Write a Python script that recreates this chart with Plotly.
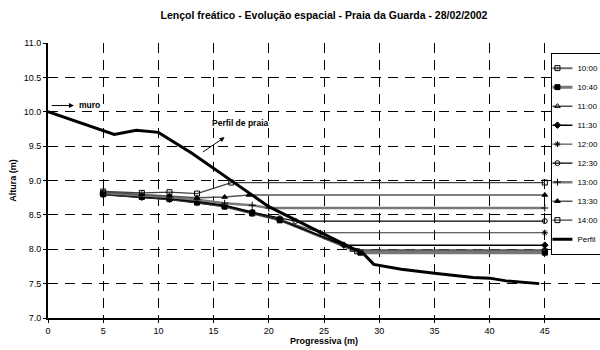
import plotly.graph_objects as go

# ---- data ----
perfil_x = [0, 6, 8, 10, 13, 20, 27.5, 28.5, 29.5, 32, 35, 38.5, 40, 41.5, 44.5]
perfil_y = [10.0, 9.67, 9.73, 9.70, 9.40, 8.62, 8.02, 7.95, 7.78, 7.71, 7.65, 7.59, 7.58, 7.54, 7.50]

x_1000 = [5, 8.5, 11, 13.5, 16, 18.5, 21, 28.0, 45]
y_1000 = [8.80, 8.76, 8.73, 8.68, 8.62, 8.52, 8.42, 7.97, 7.97]
x_1040 = [5, 8.5, 11, 13.5, 16, 18.5, 21, 28.3, 45]
y_1040 = [8.81, 8.77, 8.74, 8.69, 8.63, 8.53, 8.43, 7.95, 7.95]
x_1100 = [5, 8.5, 11, 13.5, 16, 18.5, 21, 27.6, 45]
y_1100 = [8.80, 8.76, 8.73, 8.69, 8.63, 8.53, 8.43, 7.99, 7.99]
x_1130 = [5, 8.5, 11, 13.5, 16, 18.5, 21, 26.8, 45]
y_1130 = [8.80, 8.76, 8.73, 8.69, 8.63, 8.53, 8.43, 8.06, 8.06]
x_1200 = [5, 8.5, 11, 13.5, 16, 18.5, 21, 24.7, 45]
y_1200 = [8.79, 8.75, 8.72, 8.67, 8.62, 8.52, 8.43, 8.24, 8.24]
x_1230 = [5, 8.5, 11, 13.5, 16, 18.5, 21, 22.4, 45]
y_1230 = [8.82, 8.78, 8.75, 8.70, 8.64, 8.54, 8.45, 8.41, 8.41]
x_1300 = [5, 8.5, 11, 13.5, 16, 18.5, 20.0, 45]
y_1300 = [8.82, 8.79, 8.76, 8.72, 8.67, 8.64, 8.60, 8.60]
x_1330 = [5, 8.5, 11, 13.5, 16, 18.2, 45]
y_1330 = [8.83, 8.80, 8.78, 8.75, 8.76, 8.79, 8.79]
x_1400 = [5, 8.5, 11, 13.5, 16.6, 45]
y_1400 = [8.84, 8.82, 8.83, 8.81, 8.97, 8.97]

series_names = ["10:00", "10:40", "11:00", "11:30", "12:00", "12:30", "13:00", "13:30", "14:00"]
series_x = [x_1000, x_1040, x_1100, x_1130, x_1200, x_1230, x_1300, x_1330, x_1400]
series_y = [y_1000, y_1040, y_1100, y_1130, y_1200, y_1230, y_1300, y_1330, y_1400]

# ---- styles ----
symbols = ["square-open-dot", "square", "triangle-up-open", "diamond", "asterisk-open",
           "circle-open", "cross-thin-open", "triangle-up", "square-open"]
line_colors = ["#6e6e6e", "#777777", "#505050", "#000000", "#303030",
               "#000000", "#7a7a7a", "#555555", "#404040"]
line_widths = [2, 3, 1.5, 1.5, 1, 1.2, 2.5, 1.5, 1.3]

FONT = "Arial, 'Liberation Sans', sans-serif"

fig = go.Figure()
for name, xs, ys, sym, col, lw in zip(series_names, series_x, series_y, symbols, line_colors, line_widths):
    fig.add_trace(go.Scatter(
        x=xs, y=ys, name=name, mode="lines+markers",
        line=dict(color=col, width=lw),
        marker=dict(symbol=sym, size=5, color="black", line=dict(color="black", width=1)),
    ))

fig.add_trace(go.Scatter(
    x=perfil_x, y=perfil_y, name="Perfil", mode="lines",
    line=dict(color="black", width=3),
))

fig.add_annotation(x=2.35, y=10.09, ax=0.2, ay=10.09, axref="x", ayref="y",
                   text="", showarrow=True, arrowhead=2, arrowsize=1, arrowwidth=1,
                   arrowcolor="black")
fig.add_annotation(x=2.6, y=10.1, text="<b>muro</b>", showarrow=False,
                   xanchor="left", font=dict(size=8.5, family=FONT, color="black"))
fig.add_annotation(x=16.0, y=9.63, ax=13.9, ay=9.40, axref="x", ayref="y",
                   text="", showarrow=True, arrowhead=2, arrowsize=1, arrowwidth=1,
                   arrowcolor="black")
fig.add_annotation(x=17.4, y=9.84, text="<b>Perfil de praia</b>", showarrow=False,
                   font=dict(size=8.5, family=FONT, color="black"))

fig.update_layout(
    width=600, height=350,
    margin=dict(l=48, r=0, t=43, b=32, autoexpand=False),
    paper_bgcolor="white", plot_bgcolor="white",
    font=dict(family=FONT, size=9, color="black"),
    title=dict(text="<b>Lençol freático - Evolução espacial - Praia da Guarda - 28/02/2002</b>",
               x=0.54, xanchor="center", y=0.955, yanchor="middle",
               font=dict(size=10.5, family=FONT, color="black")),
    showlegend=True,
    legend=dict(x=0.912, xanchor="left", y=0.965, yanchor="top",
                bgcolor="white", bordercolor="black", borderwidth=1,
                font=dict(size=8, family=FONT, color="black"),
                itemwidth=30, tracegroupgap=0, indentation=-15),
)
fig.update_xaxes(
    range=[0, 50], dtick=5, tick0=0,
    showline=True, linecolor="black", linewidth=2,
    ticks="outside", ticklen=3, tickcolor="black",
    showgrid=True, gridcolor="black", gridwidth=1, griddash="10px,7px",
    zeroline=False, tickfont=dict(size=9, family=FONT),
    title=dict(text="<b>Progressiva (m)</b>", font=dict(size=9, family=FONT), standoff=3),
)
fig.update_yaxes(
    range=[7, 11], dtick=0.5, tick0=7, tickformat=".1f",
    showline=True, linecolor="black", linewidth=2,
    ticks="outside", ticklen=3, tickcolor="black",
    showgrid=True, gridcolor="black", gridwidth=1, griddash="10px,7px",
    zeroline=False, tickfont=dict(size=9, family=FONT),
    title=dict(text="<b>Altura (m)</b>", font=dict(size=9, family=FONT), standoff=6),
)

fig.write_html("out.html")
